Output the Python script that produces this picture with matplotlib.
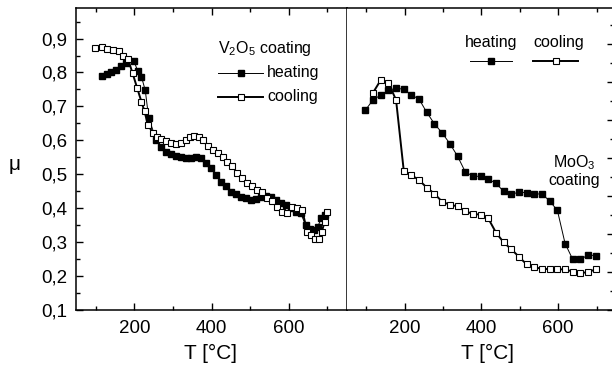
import matplotlib
matplotlib.use("Agg")
import matplotlib.pyplot as plt
from matplotlib.ticker import MultipleLocator, FuncFormatter

plt.rcParams['font.family'] = ['Liberation Sans', 'DejaVu Sans']
plt.rcParams['mathtext.fontset'] = 'custom'
plt.rcParams['mathtext.rm'] = 'Liberation Sans'
plt.rcParams['mathtext.default'] = 'regular'

# V2O5 coating (left panel)
t_heat_v = [115, 128, 140, 153, 166, 179, 198, 209, 218, 228, 237, 257, 270, 282,
            295, 308, 321, 334, 347, 360, 373, 386, 399, 411, 424, 437, 450, 463,
            476, 489, 502, 515, 528, 540, 553, 566, 579, 592, 605, 618, 631, 644,
            655, 665, 675, 685, 695]
mu_heat_v = [0.790, 0.795, 0.800, 0.808, 0.818, 0.828, 0.835, 0.803, 0.788, 0.747,
             0.665, 0.600, 0.580, 0.567, 0.560, 0.554, 0.550, 0.549, 0.547, 0.552,
             0.547, 0.533, 0.518, 0.498, 0.478, 0.464, 0.449, 0.442, 0.434, 0.430,
             0.424, 0.427, 0.432, 0.436, 0.434, 0.424, 0.415, 0.410, 0.400, 0.390,
             0.385, 0.351, 0.340, 0.335, 0.345, 0.370, 0.380]
t_cool_v = [97, 115, 129, 145, 159, 170, 183, 195, 207, 218, 226, 235, 248, 259, 269,
            282, 295, 308, 321, 334, 345, 355, 367, 377, 390, 403, 416, 429, 441,
            454, 467, 480, 493, 506, 519, 532, 545, 558, 570, 583, 596, 609, 622,
            635, 648, 658, 668, 678, 686, 693, 700]
mu_cool_v = [0.872, 0.874, 0.869, 0.865, 0.862, 0.849, 0.840, 0.798, 0.754, 0.714,
             0.685, 0.646, 0.621, 0.611, 0.603, 0.599, 0.592, 0.590, 0.592, 0.600,
             0.609, 0.613, 0.609, 0.600, 0.584, 0.572, 0.562, 0.552, 0.537, 0.523,
             0.503, 0.488, 0.474, 0.464, 0.454, 0.449, 0.430, 0.420, 0.405, 0.390,
             0.385, 0.405, 0.400, 0.395, 0.331, 0.320, 0.310, 0.310, 0.330, 0.360,
             0.390]

# MoO3 coating (right panel)
t_heat_m = [98, 118, 138, 158, 178, 198, 218, 238, 258, 278, 298, 318, 338, 358, 378,
            398, 418, 438, 458, 478, 498, 518, 538, 558, 578, 598, 618, 638, 658,
            678, 698]
mu_heat_m = [0.626, 0.653, 0.666, 0.678, 0.684, 0.681, 0.666, 0.655, 0.620, 0.590,
             0.566, 0.538, 0.505, 0.464, 0.452, 0.452, 0.444, 0.434, 0.412, 0.405,
             0.410, 0.409, 0.406, 0.405, 0.387, 0.362, 0.275, 0.233, 0.233, 0.245,
             0.243]
t_cool_m = [118, 138, 158, 178, 198, 218, 238, 258, 278, 298, 318, 338, 358, 378, 398,
            418, 438, 458, 478, 498, 518, 538, 558, 578, 598, 618, 638, 658, 678, 698]
mu_cool_m = [0.672, 0.705, 0.698, 0.653, 0.467, 0.455, 0.442, 0.422, 0.406, 0.385,
             0.377, 0.373, 0.360, 0.353, 0.351, 0.341, 0.304, 0.278, 0.260, 0.240,
             0.220, 0.212, 0.209, 0.207, 0.207, 0.207, 0.201, 0.197, 0.200, 0.207]

W, H = 612, 371
fig = plt.figure(figsize=(W / 100, H / 100), dpi=100)

# axes boxes in pixels: x0, x1, top, bottom
lx0, lx1, top, bot = 75.5, 346.5, 8, 310
rx0, rx1 = 346.5, 613.5
axl = fig.add_axes([lx0 / W, 1 - bot / H, (lx1 - lx0) / W, (bot - top) / H])
axr = fig.add_axes([rx0 / W, 1 - bot / H, (rx1 - rx0) / W, (bot - top) / H])

heat_style = dict(color='black', lw=0.7, marker='s', ms=4.4, mfc='black', mec='black')
cool_style = dict(color='black', lw=1.4, marker='s', ms=4.4, mfc='white', mec='black',
                  mew=0.8)

axl.plot(t_heat_v, mu_heat_v, **heat_style)
axl.plot(t_cool_v, mu_cool_v, **cool_style)
axr.plot(t_heat_m, mu_heat_m, **heat_style)
axr.plot(t_cool_m, mu_cool_m, **cool_style)

axl.set_xlim(47, 750)
axl.set_ylim(0.1, 0.99)
axr.set_xlim(49, 744)
axr.set_ylim(0.1, 0.895)

for ax in (axl, axr):
    for sp in ax.spines.values():
        sp.set_linewidth(1.1)
    ax.xaxis.set_major_locator(MultipleLocator(200))
    ax.xaxis.set_minor_locator(MultipleLocator(100))
    ax.yaxis.set_major_locator(MultipleLocator(0.1))
    ax.yaxis.set_minor_locator(MultipleLocator(0.05))
    ax.tick_params(which='both', direction='in', width=1.0, labelsize=13.5)
    ax.tick_params(which='major', length=5)
    ax.tick_params(which='minor', length=3)
    ax.tick_params(axis='x', which='both', top=True, bottom=True, pad=7)
    ax.set_xlabel('T [°C]', fontsize=15)

axl.tick_params(axis='y', which='both', left=True, right=False, pad=6)
axl.yaxis.set_major_formatter(FuncFormatter(lambda v, p: f'{v:.1f}'.replace('.', ',')))
axr.tick_params(axis='y', which='both', left=False, right=True, labelleft=False)
axr.spines['left'].set_visible(False)

axl.xaxis.set_label_coords(0.5, -0.112)
axr.xaxis.set_label_coords(0.529, -0.112)

fig.text(15 / W, 1 - 165 / H, 'μ', fontsize=15, ha='center', va='center')

# legend of left panel
def fx(px, x0, x1):
    return (px - x0) / (x1 - x0)

def fy(py):
    return (bot - py) / (bot - top)

axl.text(fx(218, lx0, lx1), fy(48), 'V$_2$O$_5$ coating', transform=axl.transAxes,
         fontsize=11.5, ha='left', va='center')
for py, style, lab in ((72.7, heat_style, 'heating'), (96.7, cool_style, 'cooling')):
    ls = dict(style)
    ls.pop('marker')
    axl.plot([fx(218, lx0, lx1), fx(263, lx0, lx1)], [fy(py), fy(py)],
             transform=axl.transAxes, clip_on=False, **ls)
    axl.plot([fx(240.5, lx0, lx1)], [fy(py)], transform=axl.transAxes, clip_on=False,
             **style)
    axl.text(fx(267, lx0, lx1), fy(py), lab, transform=axl.transAxes, fontsize=11.5,
             ha='left', va='center')

# legend of right panel
for cx, xa, xb, style, lab in ((491.5, 470, 512, heat_style, 'heating'),
                               (559, 533, 578, cool_style, 'cooling')):
    axr.text(fx(cx, rx0, rx1), fy(43), lab, transform=axr.transAxes, fontsize=11.5,
             ha='center', va='center')
    ls = dict(style)
    ls.pop('marker')
    axr.plot([fx(xa, rx0, rx1), fx(xb, rx0, rx1)], [fy(61), fy(61)],
             transform=axr.transAxes, clip_on=False, **ls)
    axr.plot([fx((xa + xb) / 2, rx0, rx1)], [fy(61)], transform=axr.transAxes,
             clip_on=False, **style)

axr.text(fx(574, rx0, rx1), fy(171), 'MoO$_3$\ncoating', transform=axr.transAxes,
         fontsize=11.5, ha='center', va='center', multialignment='center',
         linespacing=1.1)

fig.savefig('out.png', dpi=100)
